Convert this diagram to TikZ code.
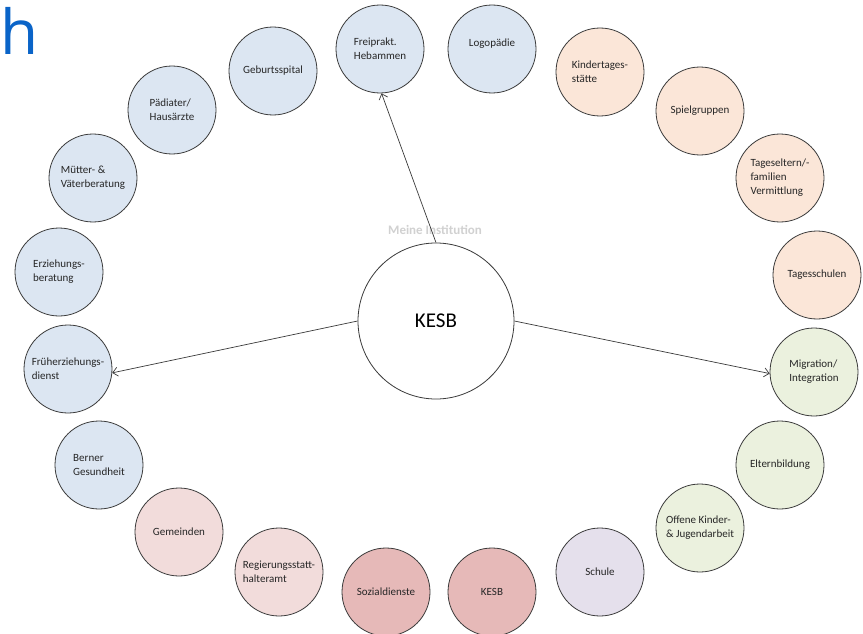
\documentclass[tikz,border=0pt]{standalone}
\usepackage{fontspec}
\setmainfont{Carlito}
\newfontfamily\hfont{Open Sans}
\usetikzlibrary{arrows.meta}
\definecolor{cblue}{HTML}{DCE6F2}
\definecolor{cpeach}{HTML}{FBE6D8}
\definecolor{cgreen}{HTML}{EBF1DE}
\definecolor{clav}{HTML}{E5E0EC}
\definecolor{cpink}{HTML}{F2DCDB}
\definecolor{cred}{HTML}{E6B9B8}
\definecolor{hblue}{HTML}{0A64C8}
\definecolor{edge}{HTML}{3A3A3A}
\tikzset{
  bub/.style={circle, draw=edge, line width=0.8pt, minimum size=88pt, inner sep=0pt,
    align=left, font=\fontsize{11}{14}\selectfont, text=black!85},
  bigbub/.style={circle, draw=edge, line width=0.8pt, minimum size=156pt, inner sep=0pt,
    fill=white, font=\fontsize{21}{24}\selectfont},
  conn/.style={draw=edge, line width=0.7pt, -{Straight Barb[length=5pt,width=9pt]}}
}
\begin{document}
\begin{tikzpicture}[x=1pt,y=-1pt]
\useasboundingbox (0,0) rectangle (863,634);
\fill[white] (0,0) rectangle (863,634);
\node[anchor=base west, text=hblue, font=\hfont\fontsize{62}{62}\selectfont, inner sep=0pt] (h) at (0,55) {h};
\node[text=black!18, font=\bfseries\fontsize{13}{15}\selectfont] (inst) at (435,230) {Meine Institution};
% left / top (blue)
\node[bub, fill=cblue] (geb) at (273,71) {Geburtsspital};
\node[bub, fill=cblue] (frei) at (380,49) {Freiprakt.\\Hebammen};
\node[bub, fill=cblue] (logo) at (492,49) {Logopädie\\[-2pt]\phantom{x}};
\node[bub, fill=cblue] (paed) at (172,110) {Pädiater/\\Hausärzte};
\node[bub, fill=cblue] (muet) at (93,178) {Mütter- \&\\Väterberatung};
\node[bub, fill=cblue] (erz) at (59,272) {Erziehungs-\\beratung};
\node[bub, fill=cblue] (frueh) at (68,369) {Früherziehungs-\\dienst};
\node[bub, fill=cblue] (bern) at (99,465) {Berner\\Gesundheit};
% bottom (pink/red)
\node[bub, fill=cpink] (gem) at (179,532) {Gemeinden};
\node[bub, fill=cpink] (reg) at (279,572) {Regierungsstatt-\\halteramt};
\node[bub, fill=cred] (soz) at (386,592) {Sozialdienste};
\node[bub, fill=cred] (kesb2) at (492,592) {KESB};
\node[bub, fill=clav] (schule) at (600,572) {Schule};
% right (green)
\node[bub, fill=cgreen] (offen) at (700,528) {Offene Kinder-\\\& Jugendarbeit};
\node[bub, fill=cgreen] (eltern) at (780,465) {Elternbildung};
\node[bub, fill=cgreen] (mig) at (814,372) {Migration/\\Integration};
% right/top (peach)
\node[bub, fill=cpeach] (tags) at (817,275) {Tagesschulen};
\node[bub, fill=cpeach] (tagel) at (780,178) {Tageseltern/-\\familien\\Vermittlung};
\node[bub, fill=cpeach] (spiel) at (700,111) {Spielgruppen};
\node[bub, fill=cpeach] (kita) at (600,72) {Kindertages-\\stätte};
% centre
\node[bigbub] (kesb) at (436,321) {KESB};
% connectors
\draw[conn] (kesb.north) -- (frei.-88);
\draw[conn] (kesb.west) -- (frueh.-5);
\draw[conn] (kesb.east) -- (mig.182);
\end{tikzpicture}
\end{document}
